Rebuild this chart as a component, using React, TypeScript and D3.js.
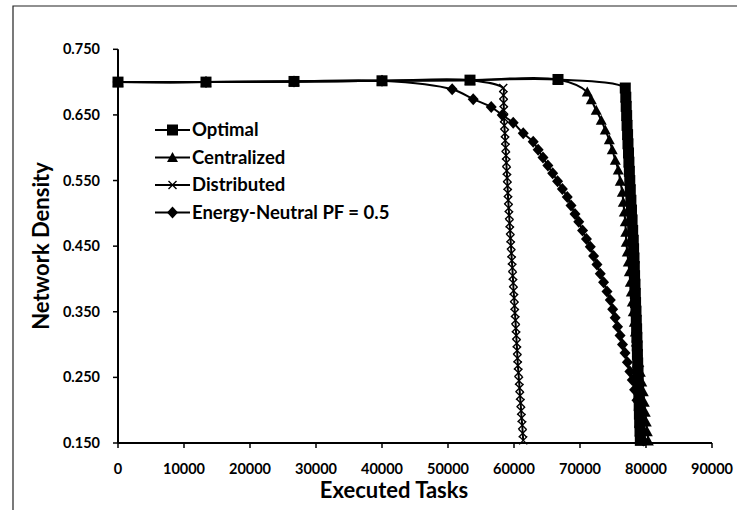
import * as React from "react";
import { scaleLinear, line, curveCatmullRom } from "d3";

// shared flat start of every series
const headX = [0, 13333, 26667, 40000, 53333, 66667];
const headY = [0.7, 0.7, 0.701, 0.702, 0.703, 0.704];

const optimalX = [76860, 76940, 77000, 77070, 77130, 77210, 77270, 77350, 77410, 77480, 77540, 77620, 77710, 77800, 77890, 77980, 78070, 78120, 78180, 78230, 78270, 78330, 78380, 78420, 78480, 78530, 78580, 78620, 78670, 78700, 78740, 78790, 78830, 78880, 78920, 78970, 79000, 79040, 79090, 79140];
const optimalY = [0.691, 0.677, 0.663, 0.649, 0.634, 0.62, 0.606, 0.592, 0.578, 0.564, 0.55, 0.536, 0.52, 0.505, 0.49, 0.474, 0.459, 0.446, 0.432, 0.419, 0.405, 0.392, 0.378, 0.364, 0.351, 0.337, 0.324, 0.311, 0.298, 0.285, 0.272, 0.259, 0.246, 0.233, 0.22, 0.207, 0.194, 0.181, 0.168, 0.154];

const centralX = [71100, 71710, 72460, 73220, 73830, 74440, 74890, 75350, 75800, 76100, 76410, 76560, 76710, 76860, 76940, 77010, 77160, 77320, 77470, 77620, 77770, 77920, 78070, 78230, 78380, 78530, 78680, 78910, 79140, 79360, 79590, 79740, 79890, 80040, 80200, 80350];
const centralY = [0.685, 0.673, 0.657, 0.642, 0.627, 0.612, 0.597, 0.581, 0.566, 0.549, 0.532, 0.517, 0.502, 0.487, 0.471, 0.456, 0.441, 0.426, 0.411, 0.395, 0.38, 0.365, 0.35, 0.334, 0.319, 0.304, 0.289, 0.273, 0.258, 0.243, 0.228, 0.212, 0.197, 0.182, 0.167, 0.153];

const distribX = [58370, 58400, 58440, 58470, 58500, 58530, 58620, 58670, 58730, 58790, 58840, 58900, 58960, 59020, 59070, 59120, 59200, 59260, 59330, 59400, 59470, 59530, 59610, 59670, 59750, 59810, 59880, 59940, 60020, 60080, 60140, 60220, 60280, 60340, 60410, 60470, 60530, 60590, 60670, 60760, 60840, 60910, 61000, 61080, 61150, 61250, 61320, 61400];
const distribY = [0.691, 0.68, 0.668, 0.657, 0.645, 0.634, 0.622, 0.611, 0.6, 0.588, 0.577, 0.565, 0.554, 0.542, 0.531, 0.52, 0.508, 0.497, 0.485, 0.474, 0.462, 0.451, 0.439, 0.428, 0.417, 0.405, 0.394, 0.382, 0.371, 0.359, 0.348, 0.337, 0.325, 0.314, 0.302, 0.291, 0.279, 0.268, 0.257, 0.245, 0.234, 0.222, 0.211, 0.199, 0.188, 0.177, 0.165, 0.154];

const energyX = [50630, 53820, 56550, 58210, 59880, 61400, 62910, 63660, 64390, 65130, 65860, 66600, 67330, 68070, 68640, 69240, 69810, 70390, 70980, 71560, 72060, 72570, 73070, 73570, 74090, 74590, 74950, 75330, 75690, 76070, 76440, 76820, 77180, 77560, 77920, 78270, 78630, 78980, 79180, 79390, 79590];
const energyY = [0.689, 0.674, 0.662, 0.65, 0.638, 0.622, 0.609, 0.597, 0.585, 0.573, 0.561, 0.549, 0.537, 0.525, 0.512, 0.499, 0.487, 0.474, 0.461, 0.449, 0.435, 0.422, 0.408, 0.395, 0.381, 0.368, 0.354, 0.341, 0.327, 0.314, 0.3, 0.287, 0.273, 0.259, 0.246, 0.231, 0.215, 0.2, 0.185, 0.17, 0.154];

const xTicks = [0, 10000, 20000, 30000, 40000, 50000, 60000, 70000, 80000, 90000];
const yTicks = [0.15, 0.25, 0.35, 0.45, 0.55, 0.65, 0.75];
const seriesNames = ["Optimal", "Centralized", "Distributed", "Energy-Neutral PF = 0.5"];

const W = 737, H = 510;
const FONT = "Lato, 'Open Sans', sans-serif";

function zip(xs, ys) {
    return xs.map((x, i) => [x, ys[i]]);
}

function Marker({ kind, x, y }) {
    if (kind === "square") return <rect x={x - 5.5} y={y - 5.5} width={11} height={11} fill="#000" />;
    if (kind === "triangle") return <path d={`M${x},${y - 5.5}L${x + 5.5},${y + 4.5}L${x - 5.5},${y + 4.5}Z`} fill="#000" />;
    if (kind === "diamond") return <path d={`M${x},${y - 6}L${x + 5.5},${y}L${x},${y + 6}L${x - 5.5},${y}Z`} fill="#000" />;
    return (
        <path d={`M${x - 4},${y - 4}L${x + 4},${y + 4}M${x - 4},${y + 4}L${x + 4},${y - 4}`} stroke="#000" strokeWidth={1.4} fill="none" />
    );
}

export default function App() {
    const x = scaleLinear().domain([0, 90000]).range([118, 712]);
    const y = scaleLinear().domain([0.15, 0.75]).range([443, 49.3]);

    const series = [
        { name: seriesNames[0], kind: "square", pts: zip(headX.concat(optimalX), headY.concat(optimalY)) },
        { name: seriesNames[1], kind: "triangle", pts: zip(headX.concat(centralX), headY.concat(centralY)) },
        { name: seriesNames[2], kind: "x", pts: zip(headX.slice(0, 5).concat(distribX), headY.slice(0, 5).concat(distribY)) },
        { name: seriesNames[3], kind: "diamond", pts: zip(headX.slice(0, 4).concat(energyX), headY.slice(0, 4).concat(energyY)) },
    ];

    const lineGen = line()
        .x(d => x(d[0]))
        .y(d => y(d[1]))
        .curve(curveCatmullRom.alpha(0.5));

    return (
        <svg width={W} height={H} style={{ position: "absolute", left: 0, top: 0, background: "#fff" }} fontFamily={FONT}>
            <rect x={0} y={0} width={W} height={H} fill="#fff" />
            {/* outer frame, only top & left inside the crop */}
            <path d={`M13,${H}V6H${W}`} stroke="#222" strokeWidth={1.2} fill="none" />

            {/* axes */}
            <line x1={x(0)} x2={x(0)} y1={y(0.75)} y2={y(0.15)} stroke="#000" strokeWidth={2} />
            <line x1={x(0)} x2={x(90000)} y1={y(0.15)} y2={y(0.15)} stroke="#000" strokeWidth={2} />
            {yTicks.map(t => (
                <g key={t}>
                    <line x1={x(0) - 5} x2={x(0)} y1={y(t)} y2={y(t)} stroke="#000" strokeWidth={1.5} />
                    <text x={100} y={y(t)} dy="0.35em" textAnchor="end" fontSize={14.5} fontWeight={700}>{t.toFixed(3)}</text>
                </g>
            ))}
            {xTicks.map(t => (
                <g key={t}>
                    <line x1={x(t)} x2={x(t)} y1={y(0.15)} y2={y(0.15) + 5} stroke="#000" strokeWidth={1.5} />
                    <text x={x(t)} y={474} textAnchor="middle" fontSize={14.5} fontWeight={700}>{t}</text>
                </g>
            ))}

            <text x={394} y={498} textAnchor="middle" fontSize={22} fontWeight={700}>Executed Tasks</text>
            <text transform="translate(49,246) rotate(-90)" textAnchor="middle" fontSize={22} fontWeight={700}>Network Density</text>

            {/* series */}
            {series.map(s => (
                <g key={s.name}>
                    <path d={lineGen(s.pts)} fill="none" stroke="#000" strokeWidth={2} />
                    {s.pts.map((p, i) => <Marker key={i} kind={s.kind} x={x(p[0])} y={y(p[1])} />)}
                </g>
            ))}

            {/* legend */}
            {series.map((s, i) => {
                const ly = 130 + i * 27.5;
                return (
                    <g key={"lg" + s.name}>
                        <line x1={155} x2={190} y1={ly} y2={ly} stroke="#000" strokeWidth={2} />
                        <Marker kind={s.kind} x={172.5} y={ly} />
                        <text x={192} y={ly} dy="0.35em" fontSize={18.5} fontWeight={700}>{s.name}</text>
                    </g>
                );
            })}
        </svg>
    );
}
